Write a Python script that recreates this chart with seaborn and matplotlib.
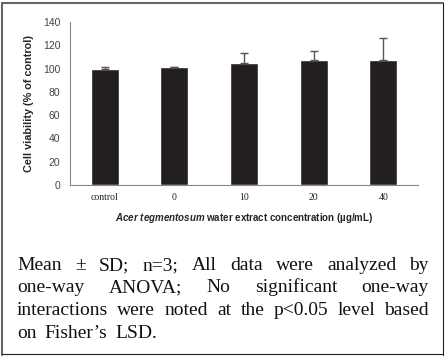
import numpy as np
import pandas as pd
import matplotlib
matplotlib.use("Agg")
import matplotlib.pyplot as plt
from matplotlib.lines import Line2D
import seaborn as sns

# données
groups = ["control", "0", "10", "20", "40"]
viability = [100.0, 101.0, 105.0, 107.5, 107.5]
sd = [1.5, 0.0, 8.5, 7.5, 19.0]
y_ticks = [0, 20, 40, 60, 80, 100, 120, 140]

caption_lines = [
    "Mean ± SD; n=3; All data were analyzed by",
    "one-way ANOVA; No significant one-way",
    "interactions were noted at the p<0.05 level based",
    "on Fisher’s LSD.",
]

sns.set_style("white")
plt.rcParams["font.family"] = ["Liberation Sans", "DejaVu Sans"]
plt.rcParams["mathtext.fontset"] = "custom"
plt.rcParams["mathtext.it"] = "Liberation Sans:italic:bold"
plt.rcParams["mathtext.rm"] = "Liberation Sans:bold"

W, H = 446, 357
fig = plt.figure(figsize=(W / 100, H / 100), dpi=100)
ax = fig.add_axes([70 / W, (H - 185) / H, (418 - 70) / W, (185 - 22) / H])

df = pd.DataFrame({"group": groups, "viability": viability})
sns.barplot(data=df, x="group", y="viability", color="#231f20", width=0.4,
            saturation=1, errorbar=None, ax=ax)
ax.errorbar(np.arange(len(groups)), viability, yerr=[np.zeros(len(sd)), sd],
            fmt="none", ecolor="#555555", elinewidth=1, capsize=3, capthick=1)

ax.set_xlim(-0.5, len(groups) - 0.5)
ax.set_ylim(0, 140)
ax.set_yticks(y_ticks)
ax.set_xticks(np.arange(len(groups)))
ax.set_xticks(np.arange(len(groups) + 1) - 0.5, minor=True)
ax.tick_params(axis="x", which="major", length=0, pad=6)
ax.tick_params(axis="x", which="minor", length=3, color="#888888", direction="out")
ax.tick_params(axis="y", length=3, color="#888888", direction="out", pad=4,
               labelsize=7.5, labelcolor="#444444")
for lab in ax.get_xticklabels():
    lab.set_fontfamily("Liberation Serif")
    lab.set_fontsize(7)
    lab.set_color("#222222")

sns.despine(ax=ax)
for s in ["left", "bottom"]:
    ax.spines[s].set_color("#888888")
    ax.spines[s].set_linewidth(0.8)

ax.set_ylabel("Cell viability (% of control)", fontsize=7.8, fontweight="bold",
              labelpad=6)
ax.set_xlabel(r"$\mathit{Acer\ tegmentosum}$ water extract concentration (µg/mL)",
              fontsize=7, fontweight="bold", labelpad=6)

# légende en texte justifié sous le graphique
fig.canvas.draw()
renderer = fig.canvas.get_renderer()
left, right = 17, 429
baselines = [270, 292, 315, 338]
for i, line in enumerate(caption_lines):
    words = line.split(" ")
    texts = [fig.text(0, 1 - baselines[i] / H, w, fontsize=14,
                      family="Liberation Serif", color="#111111", va="baseline")
             for w in words]
    widths = [t.get_window_extent(renderer).width for t in texts]
    if i < len(caption_lines) - 1:
        gap = (right - left - sum(widths)) / (len(words) - 1)
    else:
        gap = 8
    x = left
    for t, w in zip(texts, widths):
        t.set_x(x / W)
        x += w + gap

# cadre
fig.add_artist(Line2D([2 / W, 2 / W], [2 / H, 1 - 3 / H], color="#666666", lw=1.5))
fig.add_artist(Line2D([2 / W, 443 / W], [1 - 3 / H, 1 - 3 / H], color="#666666", lw=1.5))
fig.add_artist(Line2D([443 / W, 443 / W], [2 / H, 1 - 3 / H], color="#222222", lw=0.8))
fig.add_artist(Line2D([2 / W, 443 / W], [3 / H, 3 / H], color="#222222", lw=0.8))

fig.savefig("out.png", dpi=100)
